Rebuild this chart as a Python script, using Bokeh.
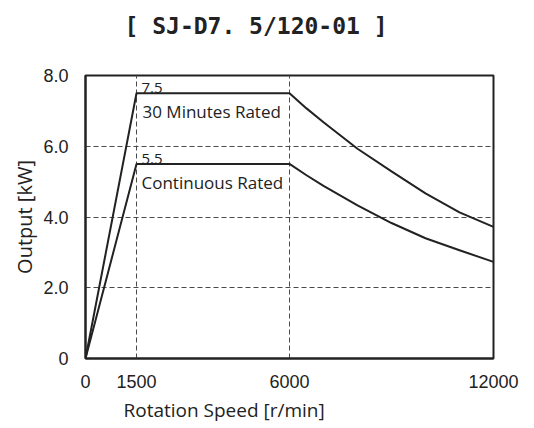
from bokeh.plotting import figure
from bokeh.models import Range1d, FixedTicker, Label, ColumnDataSource, Title
from bokeh.embed import file_html
from bokeh.resources import INLINE

# ---- data ----
title_text = "[ SJ-D7. 5/120-01 ]"
x_label = "Rotation Speed [r/min]"
y_label = "Output [kW]"

speed_30min = [0, 1500, 6000, 6500, 7000, 8000, 9000, 10000, 11000, 12000]
output_30min = [0, 7.5, 7.5, 7.07, 6.68, 5.93, 5.29, 4.67, 4.13, 3.72]
speed_cont = [0, 1500, 6000, 6500, 7000, 8000, 9000, 10000, 11000, 12000]
output_cont = [0, 5.5, 5.5, 5.18, 4.88, 4.33, 3.83, 3.40, 3.06, 2.73]

series_names = ["30 Minutes Rated", "Continuous Rated"]
x_ticks = [0, 1500, 6000, 12000]
x_tick_labels = ["0", "1500", "6000", "12000"]
y_ticks = [0, 2, 4, 6, 8]
y_tick_labels = ["0", "2.0", "4.0", "6.0", "8.0"]

INK = "#222222"

# ---- figure ----
p = figure(width=534, height=428, output_backend="svg", toolbar_location=None,
           x_range=Range1d(0, 12000), y_range=Range1d(0, 8),
           min_border_left=85, min_border_right=41, min_border_top=75,
           min_border_bottom=70)
p.background_fill_color = "white"
p.border_fill_color = "white"
p.outline_line_color = INK
p.outline_line_width = 2

src30 = ColumnDataSource(dict(x=speed_30min, y=output_30min))
srcc = ColumnDataSource(dict(x=speed_cont, y=output_cont))
p.line("x", "y", source=src30, line_color=INK, line_width=2, line_join="round")
p.line("x", "y", source=srcc, line_color=INK, line_width=2, line_join="round")

# title (outermost panel above) with a small spacer panel between it and the frame
p.title.text = title_text
p.title.align = "left"
p.title.offset = 39
p.title.vertical_align = "bottom"
p.title.standoff = 21
p.title.text_font = "DejaVu Sans Mono"
p.title.text_font_style = "bold"
p.title.text_font_size = "23px"
p.title.text_color = INK
spacer = Title(text=" ", text_font="DejaVu Sans", text_font_size="10px", standoff=13)
p.add_layout(spacer, "above")

# axes
for ax in (p.xaxis, p.yaxis):
    ax.major_tick_line_color = None
    ax.minor_tick_line_color = None
    ax.major_tick_out = 0
    ax.major_tick_in = 0
    ax.axis_line_color = INK
    ax.axis_line_width = 2
    ax.major_label_text_font = "Liberation Sans"
    ax.major_label_text_font_size = "18px"
    ax.major_label_text_color = INK

p.xaxis.ticker = FixedTicker(ticks=x_ticks)
p.xaxis.major_label_overrides = {t: l for t, l in zip(x_ticks, x_tick_labels)}
p.xaxis.major_label_standoff = 16
p.yaxis.ticker = FixedTicker(ticks=y_ticks)
p.yaxis.major_label_overrides = {t: l for t, l in zip(y_ticks, y_tick_labels)}
p.yaxis.major_label_standoff = 17

p.yaxis.axis_label = y_label
p.yaxis.axis_label_text_font = "Open Sans"
p.yaxis.axis_label_text_font_style = "normal"
p.yaxis.axis_label_text_font_size = "20px"
p.yaxis.axis_label_text_color = INK
p.yaxis.axis_label_standoff = 2

# x-axis label as a left-aligned title below the axis
xt = Title(text=x_label, align="left", offset=38, standoff=8,
           vertical_align="bottom",
           text_font="Open Sans", text_font_style="normal",
           text_font_size="19px", text_color=INK)
p.add_layout(xt, "below")

# grid
for g in (p.xgrid, p.ygrid):
    g.grid_line_color = "#4a4a4a"
    g.grid_line_dash = "5 3"
    g.grid_line_width = 1

# series annotations
ann_font = "Open Sans"
p.add_layout(Label(x=speed_30min[1], y=output_30min[1], x_offset=5, y_offset=5,
                   text=f"{output_30min[1]}", text_baseline="alphabetic",
                   text_font=ann_font, text_font_size="15px", text_color=INK))
p.add_layout(Label(x=speed_30min[1], y=output_30min[1], x_offset=6, y_offset=-18,
                   text=series_names[0], text_baseline="alphabetic",
                   text_font=ann_font, text_font_size="17px", text_color=INK))
p.add_layout(Label(x=speed_cont[1], y=output_cont[1], x_offset=5, y_offset=5,
                   text=f"{output_cont[1]}", text_baseline="alphabetic",
                   text_font=ann_font, text_font_size="15px", text_color=INK))
p.add_layout(Label(x=speed_cont[1], y=output_cont[1], x_offset=5, y_offset=-19,
                   text=series_names[1], text_baseline="alphabetic",
                   text_font=ann_font, text_font_size="17px", text_color=INK))

open("out.html", "w").write(file_html(p, INLINE))
